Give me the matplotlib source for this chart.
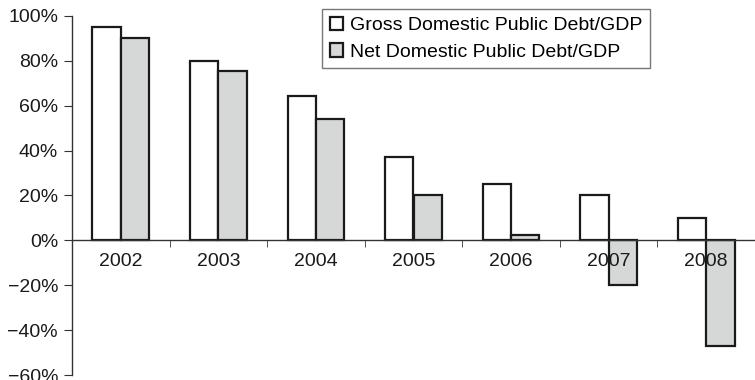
import numpy as np
import matplotlib.pyplot as plt
from matplotlib.ticker import FuncFormatter

plt.rcParams['font.family'] = ['Liberation Sans', 'DejaVu Sans']

# --- Debt ratios (% of GDP) ---
years = ['2002', '2003', '2004', '2005', '2006', '2007', '2008']
gross_debt = [95, 80, 64.5, 37, 25, 20, 10]
net_debt = [90, 75.5, 54, 20, 2.5, -20, -47]

x = np.arange(len(years))
w = 0.29

fig = plt.figure(figsize=(7.55, 3.8), dpi=100)
ax = fig.add_axes([72 / 755, 5 / 380, 683 / 755, 359 / 380])

ax.bar(x - w / 2, gross_debt, w, color='white', edgecolor='#1a1a1a', linewidth=1.6,
       label='Gross Domestic Public Debt/GDP')
ax.bar(x + w / 2, net_debt, w, color='#d6d7d7', edgecolor='#1a1a1a', linewidth=1.6,
       label='Net Domestic Public Debt/GDP')

ax.set_xlim(-0.5, len(years) - 0.5)
ax.set_ylim(-60, 100)
ax.set_yticks(np.arange(-60, 101, 20))
ax.yaxis.set_major_formatter(FuncFormatter(lambda v, p: f'{v:.0f}%'.replace('-', '\u2212')))

# years under the zero line, boundary ticks between them
ax.spines['bottom'].set_position(('data', 0))
ax.spines['top'].set_visible(False)
ax.spines['right'].set_visible(False)
for s in ['left', 'bottom']:
    ax.spines[s].set_color('#333333')
    ax.spines[s].set_linewidth(1.0)
ax.set_xticks(x)
ax.set_xticklabels(years)
ax.set_xticks(np.arange(0.5, len(years) - 0.5, 1), minor=True)
ax.tick_params(axis='x', which='major', length=0, pad=9, labelsize=14, colors='#1a1a1a')
ax.tick_params(axis='x', which='minor', length=5, direction='out', color='#333333')
ax.tick_params(axis='y', length=6, direction='out', labelsize=14, colors='#333333',
               labelcolor='#1a1a1a', pad=4)

leg = ax.legend(loc='upper left', bbox_to_anchor=(0.366, 1.02), fontsize=14,
                frameon=True, fancybox=False, edgecolor='#555555',
                handlelength=0.7, handleheight=0.7, handletextpad=0.35,
                borderpad=0.4, labelspacing=0.45, borderaxespad=0)
leg.get_frame().set_linewidth(1.0)

fig.savefig('out.png', dpi=100)
